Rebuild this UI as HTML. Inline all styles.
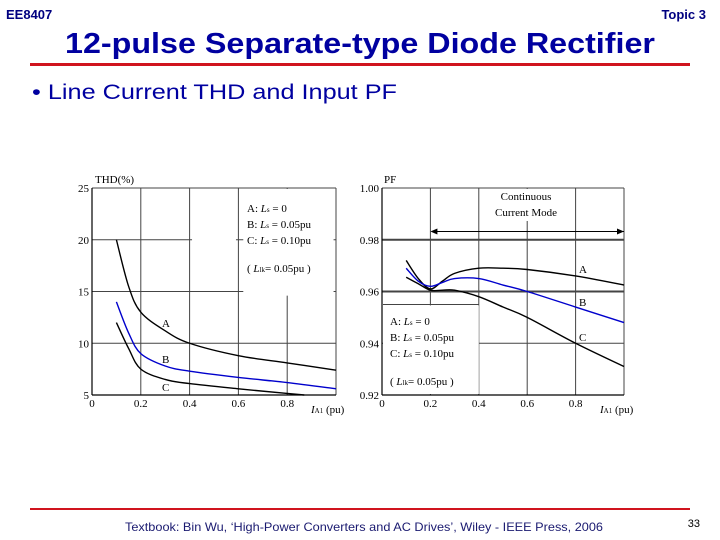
<!DOCTYPE html>
<html><head><meta charset="utf-8"><style>
body{margin:0;width:720px;height:540px;background:#fff;overflow:hidden;font-family:"Liberation Sans",sans-serif}
svg{position:absolute;left:0;top:0}
</style></head><body>
<svg width="720" height="540" font-family="Liberation Sans, sans-serif">
<text x="6" y="19" font-size="13" font-weight="bold" fill="#000080">EE8407</text>
<text x="706" y="19" font-size="13" font-weight="bold" fill="#000080" text-anchor="end">Topic 3</text>
<text x="65" y="53" font-size="29" font-weight="bold" fill="#0000a0" textLength="590" lengthAdjust="spacingAndGlyphs">12-pulse Separate-type Diode Rectifier</text>
<rect x="30" y="63" width="660" height="3" fill="#d0141e"/>
<text x="32" y="99" font-size="21" fill="#0000a0" textLength="365" lengthAdjust="spacingAndGlyphs">• Line Current THD and Input PF</text>
<rect x="30" y="508" width="660" height="2" fill="#d0141e"/>
<text x="125" y="531" font-size="12" fill="#1a1a70" textLength="478" lengthAdjust="spacingAndGlyphs">Textbook: Bin Wu, ‘High-Power Converters and AC Drives’, Wiley - IEEE Press, 2006</text>
<text x="700" y="527" font-size="11" fill="#000" text-anchor="end">33</text>
<g id="c1"></g>
<g id="c2"></g>
</svg>
<script>
const thdX=[0.1,0.15,0.2,0.3,0.4,0.6,0.8,1.0];
const thdA=[20,15.5,13,11.2,10,8.8,8.1,7.4];
const thdB=[14,11,9,7.8,7.3,6.7,6.2,5.6];
const thdCx=[0.1,0.15,0.2,0.3,0.4,0.6,0.8,0.87];
const thdC=[12,9.5,7.5,6.5,6.1,5.6,5.15,5];
const thdYTicks=[5,10,15,20,25];
const xTicks=[0,0.2,0.4,0.6,0.8];
const pfX=[0.1,0.15,0.2,0.25,0.3,0.4,0.5,0.6,0.8,1.0];
const pfA=[0.972,0.965,0.961,0.964,0.967,0.969,0.969,0.9685,0.966,0.9625];
const pfB=[0.969,0.964,0.962,0.9635,0.965,0.965,0.9625,0.960,0.954,0.948];
const pfC=[0.9655,0.963,0.9605,0.9605,0.9605,0.958,0.954,0.950,0.940,0.931];
const pfYTicks=[0.92,0.94,0.96,0.98,1.00];
const NS="http://www.w3.org/2000/svg";
function mk(p,t,a,txt){const e=document.createElementNS(NS,t);for(const k in a)e.setAttribute(k,a[k]);if(txt!=null)e.textContent=txt;p.appendChild(e);return e;}
function chart(g,x0,x1,yTop,yBot,vmin,vmax,yt,fmt,thick){
 const X=v=>x0+(x1-x0)*v, Y=v=>yBot-(yBot-yTop)*(v-vmin)/(vmax-vmin);
 [0.2,0.4,0.6,0.8,1.0].forEach(v=>{const l=mk(g,'line',{x1:X(v),x2:X(v),y1:yTop,y2:yBot,stroke:'#444','stroke-width':1});});
 yt.forEach(v=>{const l=mk(g,'line',{x1:x0,x2:x1,y1:Y(v),y2:Y(v),stroke:'#444','stroke-width':thick&&thick.includes(v)?2:1});
  const t=mk(g,'text',{x:x0-3,y:Y(v)+4,'font-size':11,'font-family':'Liberation Serif, serif','text-anchor':'end'},fmt(v));});
 mk(g,'line',{x1:x0,x2:x0,y1:yTop,y2:yBot,stroke:'#000','stroke-width':1.2});
 mk(g,'line',{x1:x0,x2:x1,y1:yBot,y2:yBot,stroke:'#000','stroke-width':1.2});
 xTicks.forEach(v=>{const t=mk(g,'text',{x:X(v),y:yBot+12,'font-size':11,'font-family':'Liberation Serif, serif','text-anchor':'middle'},v===0?'0':v.toFixed(1));});
 return {X,Y};
}
function line(g,s,xs,ys,col,name){
 const P=xs.map((x,i)=>[s.X(x),s.Y(ys[i])]);
 let d='M'+P[0][0]+','+P[0][1];
 for(let i=0;i<P.length-1;i++){const p0=P[Math.max(i-1,0)],p1=P[i],p2=P[i+1],p3=P[Math.min(i+2,P.length-1)];
  d+=` C${p1[0]+(p2[0]-p0[0])/6},${p1[1]+(p2[1]-p0[1])/6} ${p2[0]-(p3[0]-p1[0])/6},${p2[1]-(p3[1]-p1[1])/6} ${p2[0]},${p2[1]}`;}
 const p=mk(g,'path',{d,fill:'none',stroke:col,'stroke-width':1.4});}
const S='font-family="Liberation Serif, serif"';
// chart 1
const g1=document.getElementById('c1');
const s1=chart(g1,92,336,188,395,5,25,thdYTicks,v=>String(v));
mk(g1,'rect',{x:s1.X(0.62),y:189,width:s1.X(0.99)-s1.X(0.62),height:s1.Y(14.6)-189,fill:'#fff'});
mk(g1,'rect',{x:s1.X(0.41),y:s1.Y(20)-1,width:s1.X(0.59)-s1.X(0.41),height:3,fill:'#fff'});
line(g1,s1,thdX,thdA,'#000','series-a-line');
line(g1,s1,thdX,thdB,'#0000cc','series-b-line');
line(g1,s1,thdCx,thdC,'#000','series-c-line');
g1.insertAdjacentHTML('beforeend',`<g ${S} font-size="11">
<text x="95" y="183">THD(%)</text>
<text x="247" y="212">A: <tspan font-style="italic">L</tspan><tspan font-size="7">s</tspan> = 0</text>
<text x="247" y="228">B: <tspan font-style="italic">L</tspan><tspan font-size="7">s</tspan> = 0.05pu</text>
<text x="247" y="244">C: <tspan font-style="italic">L</tspan><tspan font-size="7">s</tspan> = 0.10pu</text>
<text x="247" y="272">( <tspan font-style="italic">L</tspan><tspan font-size="7">lk</tspan>= 0.05pu )</text>
<text x="162" y="327">A</text><text x="162" y="363">B</text><text x="162" y="391">C</text>
<text x="311" y="413"><tspan font-style="italic">I</tspan><tspan font-size="7">A1</tspan> (pu)</text></g>`);
// chart 2
const g2=document.getElementById('c2');
const s2=chart(g2,382,624,188,395,0.92,1.00,pfYTicks,v=>v.toFixed(2),[0.96,0.98]);
mk(g2,'rect',{x:383,y:s2.Y(0.955)+1,width:s2.X(0.4)-383,height:395-s2.Y(0.955)-2,fill:'#fff'});
mk(g2,'polyline',{points:`383,${s2.Y(0.955)} ${s2.X(0.4)},${s2.Y(0.955)}`,stroke:'#444',fill:'none'});
mk(g2,'rect',{x:s2.X(0.42),y:189,width:s2.X(0.78)-s2.X(0.42),height:32,fill:'#fff'});
line(g2,s2,pfX,pfA,'#000','series-a-line');
line(g2,s2,pfX,pfB,'#0000cc','series-b-line');
line(g2,s2,pfX,pfC,'#000','series-c-line');
const ay=s2.Y(0.9832);
g2.insertAdjacentHTML('beforeend',`<g ${S} font-size="11">
<text x="384" y="183">PF</text>
<text x="526" y="200" text-anchor="middle">Continuous</text>
<text x="526" y="216" text-anchor="middle">Current Mode</text>
<line x1="${s2.X(0.21)}" x2="${s2.X(1)}" y1="${ay}" y2="${ay}" stroke="#000"/>
<polygon points="${s2.X(0.2)},${ay} ${s2.X(0.2)+7},${ay-3} ${s2.X(0.2)+7},${ay+3}"/>
<polygon points="${s2.X(1)},${ay} ${s2.X(1)-7},${ay-3} ${s2.X(1)-7},${ay+3}"/>
<text x="390" y="325">A: <tspan font-style="italic">L</tspan><tspan font-size="7">s</tspan> = 0</text>
<text x="390" y="341">B: <tspan font-style="italic">L</tspan><tspan font-size="7">s</tspan> = 0.05pu</text>
<text x="390" y="357">C: <tspan font-style="italic">L</tspan><tspan font-size="7">s</tspan> = 0.10pu</text>
<text x="390" y="385">( <tspan font-style="italic">L</tspan><tspan font-size="7">lk</tspan>= 0.05pu )</text>
<text x="579" y="273">A</text><text x="579" y="306">B</text><text x="579" y="341">C</text>
<text x="600" y="413"><tspan font-style="italic">I</tspan><tspan font-size="7">A1</tspan> (pu)</text></g>`);
</script>
</body></html>
